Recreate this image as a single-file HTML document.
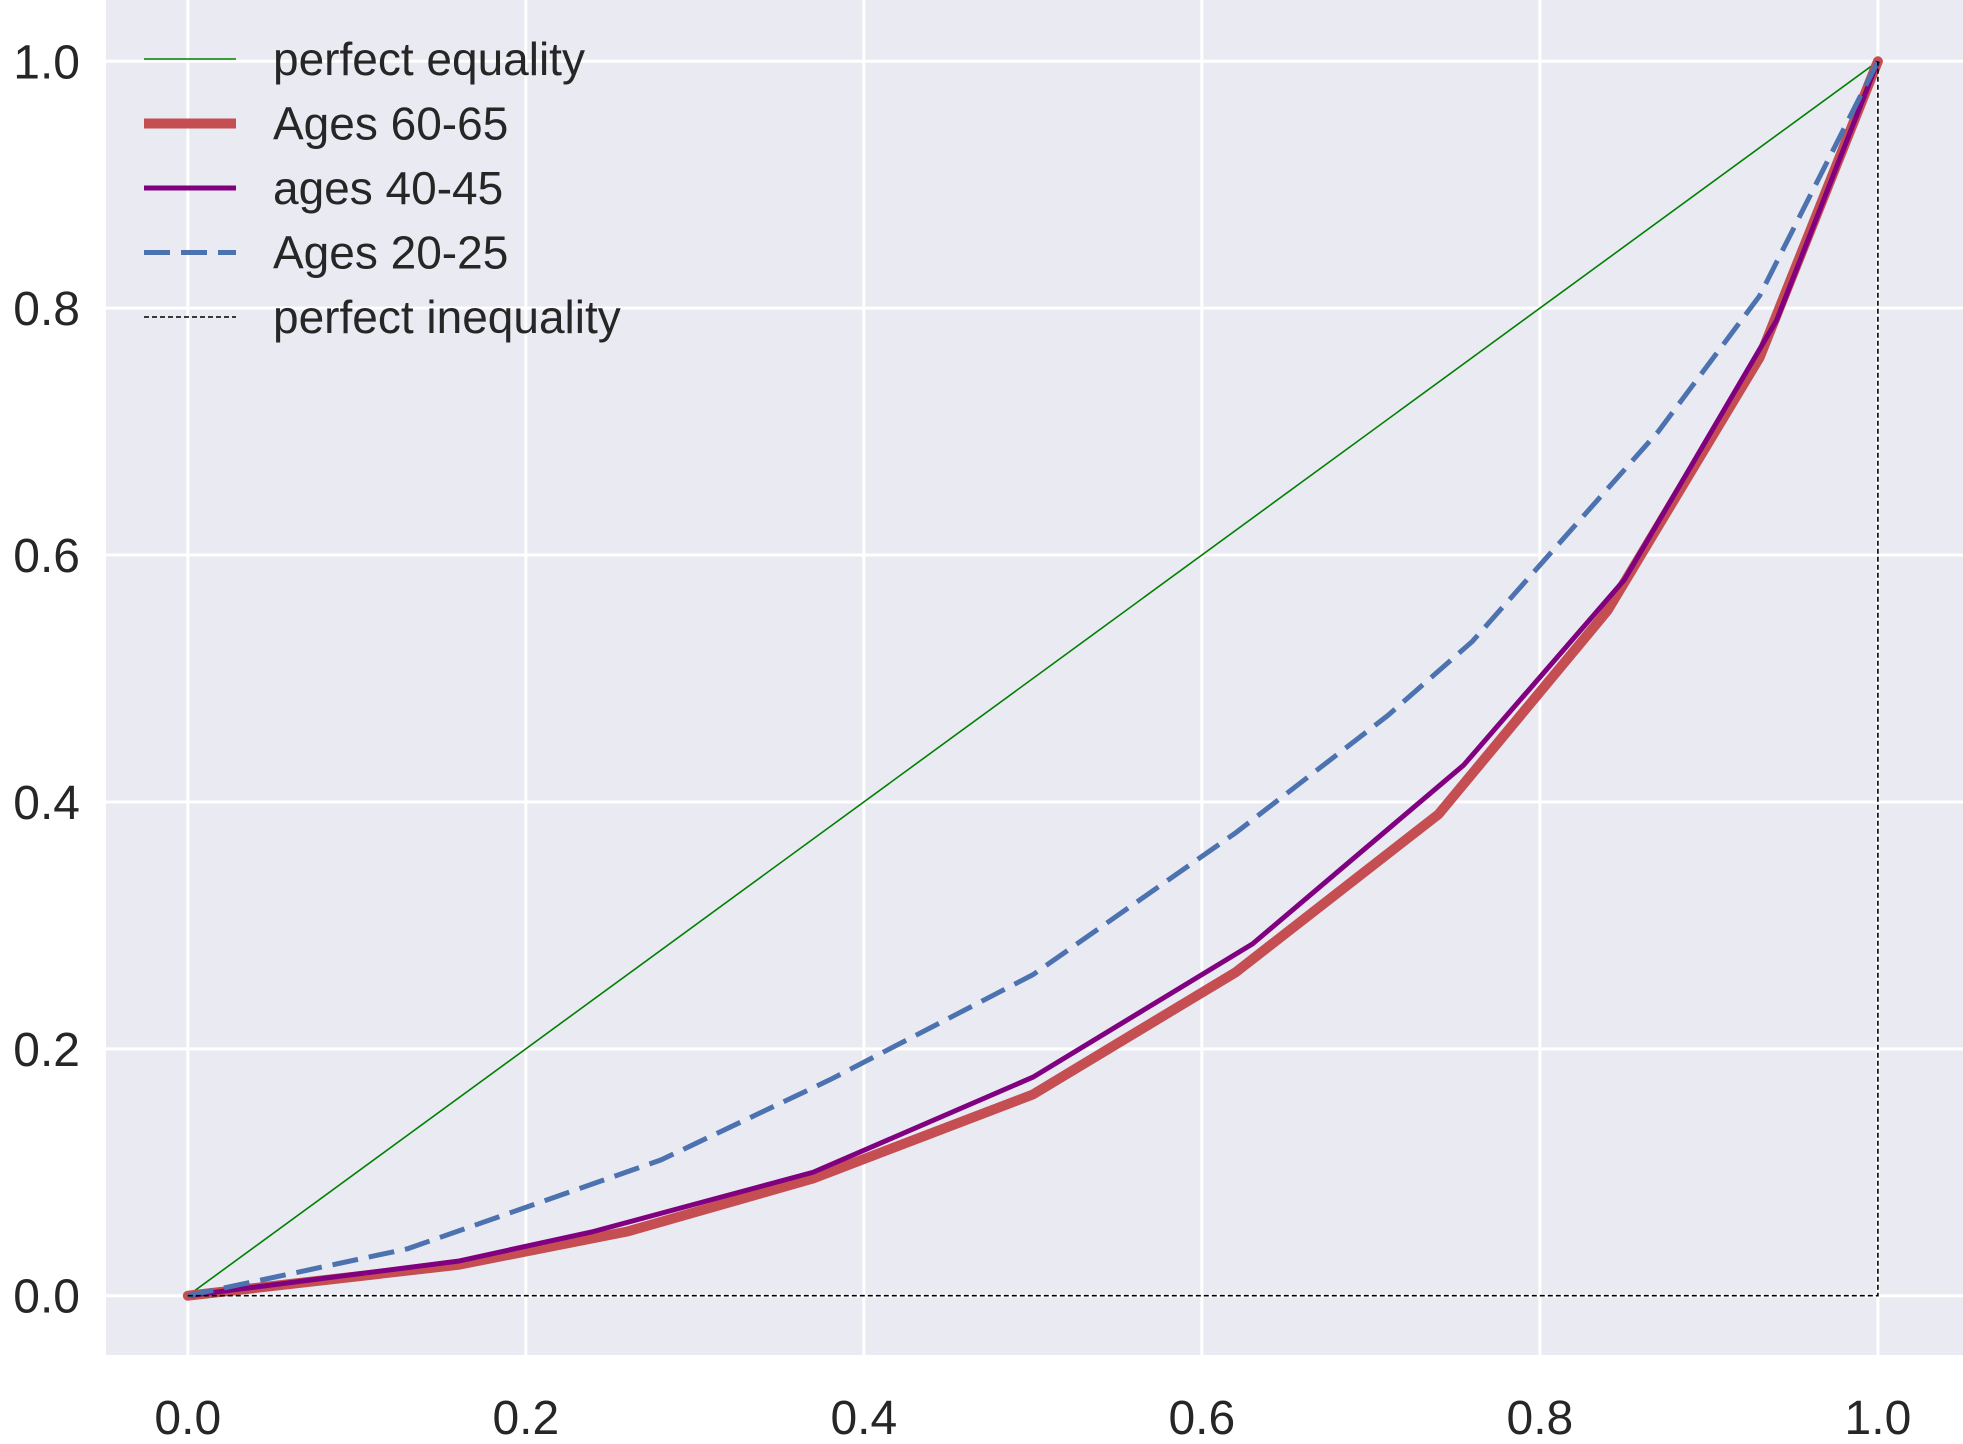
<!DOCTYPE html>
<html><head><meta charset="utf-8"><style>
html,body{margin:0;padding:0;background:#fff;}
text{font-family:"Liberation Sans",sans-serif;fill:#262626;}
</style></head><body>
<svg id="chart" width="1963" height="1439" xmlns="http://www.w3.org/2000/svg">
<rect x="106" y="0" width="1857" height="1355" fill="#eaeaf2"/>
<g id="grid"></g>
<g id="series"></g>
<g id="ticks"></g>
<g id="legend"></g>
</svg>
<script>
const xTicks=[0,0.2,0.4,0.6,0.8,1.0];
const yTicks=[0,0.2,0.4,0.6,0.8,1.0];
const tickLabels=["0.0","0.2","0.4","0.6","0.8","1.0"];
const redX=[0,0.16,0.26,0.37,0.50,0.62,0.74,0.84,0.93,1];
const redY=[0,0.025,0.052,0.095,0.163,0.262,0.39,0.555,0.76,1];
const purpleX=[0,0.16,0.24,0.37,0.50,0.63,0.755,0.85,0.94,1];
const purpleY=[0,0.028,0.052,0.10,0.177,0.285,0.43,0.58,0.79,1];
const blueX=[0,0.13,0.28,0.38,0.50,0.62,0.71,0.76,0.87,0.93,1];
const blueY=[0,0.038,0.11,0.175,0.26,0.375,0.47,0.53,0.70,0.81,1];
const NS="http://www.w3.org/2000/svg";
const sx=v=>187.8+v*(1877.9-187.8);
const sy=v=>1295.7-v*(1295.7-61.3);
function mk(tag,parent,attrs){const e=document.createElementNS(NS,tag);for(const k in attrs)e.setAttribute(k,attrs[k]);document.getElementById(parent).appendChild(e);return e;}
xTicks.forEach((t,i)=>{
 const g=mk('line','grid',{x1:sx(t),x2:sx(t),y1:0,y2:1355,stroke:'#fff','stroke-width':3});
 
 
 const l=mk('text','ticks',{x:sx(t),y:1434,'font-size':48,'text-anchor':'middle'});
 l.textContent=tickLabels[i];
 
 
});
yTicks.forEach((t,i)=>{
 const g=mk('line','grid',{x1:106,x2:1963,y1:sy(t),y2:sy(t),stroke:'#fff','stroke-width':3});
 
 
 const l=mk('text','ticks',{x:80,y:sy(t)+17,'font-size':48,'text-anchor':'end'});
 l.textContent=tickLabels[i];
 
 
});
function pts(xs,ys){return xs.map((x,i)=>sx(x)+','+sy(ys[i])).join(' ');}
let e;
e=mk('polyline','series',{points:pts([0,1],[0,1]),fill:'none',stroke:'#008000','stroke-width':1.6});


e=mk('polyline','series',{points:pts(redX,redY),fill:'none',stroke:'#c44e52','stroke-width':10,'stroke-linejoin':'round','stroke-linecap':'round'});


e=mk('polyline','series',{points:pts(purpleX,purpleY),fill:'none',stroke:'#800080','stroke-width':5,'stroke-linejoin':'round'});


e=mk('polyline','series',{points:pts(blueX,blueY),fill:'none',stroke:'#4c72b0','stroke-width':5,'stroke-dasharray':'26,11'});


e=mk('polyline','series',{points:pts([0,1,1],[0,0,1]),fill:'none',stroke:'#000','stroke-width':1.6,'stroke-dasharray':'5,3'});


const legNames=["perfect equality","Ages 60-65","ages 40-45","Ages 20-25","perfect inequality"];
const legStyles=[['#008000',1.6,''],['#c44e52',10,''],['#800080',5,''],['#4c72b0',5,'26,11'],['#000',1.6,'5,3']];
legNames.forEach((n,i)=>{
 const y=59+i*64.5;
 const ln=mk('line','legend',{x1:144,x2:236,y1:y,y2:y,stroke:legStyles[i][0],'stroke-width':legStyles[i][1],'stroke-dasharray':legStyles[i][2]});
 
 
 const t=mk('text','legend',{x:273,y:y+16,'font-size':46});
 t.textContent=n;
 
 
});
</script>
</body></html>
